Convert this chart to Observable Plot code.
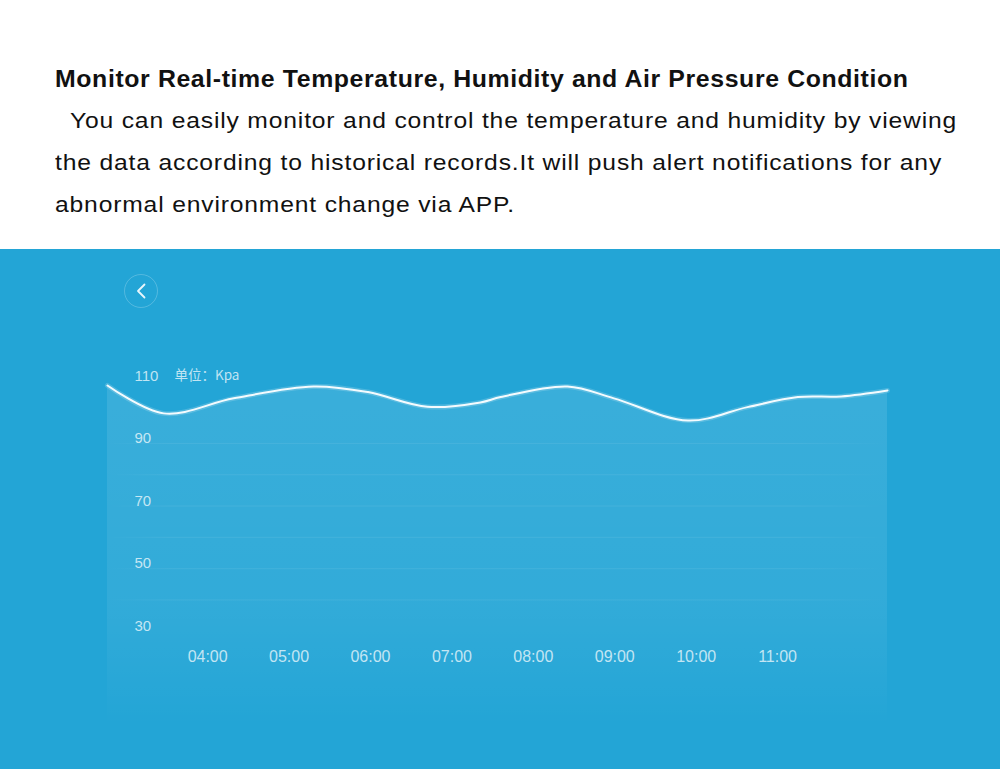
<!DOCTYPE html>
<html>
<head>
<meta charset="utf-8">
<script src="https://cdn.jsdelivr.net/npm/d3@7"></script>
<script src="https://cdn.jsdelivr.net/npm/@observablehq/plot@0.6"></script>
<style>
  html, body { margin: 0; padding: 0; background: #fff; }
  body { width: 1000px; height: 769px; overflow: hidden; position: relative; font-family: "Liberation Sans", Arial, sans-serif; color: #111; }
  .t { position: absolute; left: 55px; white-space: pre; line-height: 1; transform-origin: 0 0; }
  #title { font-weight: bold; font-size: 23px; letter-spacing: 0.57px; transform: scaleX(1.08); }
  .body { font-size: 22px; letter-spacing: 0.75px; transform: scaleX(1.12); }
  #panel { position: absolute; left: 0; top: 249px; width: 1000px; height: 520px; background: #23a5d6; }
  #panel svg.plot { position: absolute; left: 0; top: 0; }
  #back { position: absolute; left: 124px; top: 25px; }
</style>
</head>
<body>
<div id="title" class="t" style="top:68px">Monitor Real-time Temperature, Humidity and Air Pressure Condition</div>
<div class="t body" style="top:110px">  You can easily monitor and control the temperature and humidity by viewing</div>
<div class="t body" style="top:152px">the data according to historical records.It will push alert notifications for any</div>
<div class="t body" style="top:194px">abnormal environment change via APP.</div>
<div id="panel"></div>
<script>
// ---- data ----
const hours  = [2.77, 3.46, 4.32, 5.30, 5.97, 6.70, 7.35, 7.60, 8.42, 8.99, 9.90, 10.63, 11.25, 11.78, 12.35];
const values = [108.5, 99.6, 104.4, 108.2, 106.4, 101.7, 103.1, 104.8, 108.2, 104.4, 97.3, 101.6, 104.8, 105.0, 106.9];
const xTickHours  = [4, 5, 6, 7, 8, 9, 10, 11];
const xTickLabels = ["04:00", "05:00", "06:00", "07:00", "08:00", "09:00", "10:00", "11:00"];
const yTicks = [110, 90, 70, 50, 30];
const gridValues = [90, 80, 70, 60, 50, 40];
const unitLabel = "单位：Kpa";

const data = hours.map((h, i) => ({h, v: values[i]}));
const labelColor = "rgba(255,255,255,0.72)";

const chart = Plot.plot({
  width: 1000,
  height: 520,
  marginLeft: 107,
  marginRight: 113,
  marginTop: 100,
  marginBottom: 44.3,
  style: {background: "transparent", fontFamily: "'Liberation Sans', Arial, sans-serif", overflow: "visible"},
  x: {domain: [2.77, 12.35], axis: null},
  y: {domain: [0, 120], axis: null},
  marks: [
    Plot.areaY(data, {x: "h", y: "v", curve: "catmull-rom", fill: "url(#areaGrad)"}),
    Plot.ruleY(gridValues, {stroke: "url(#gridGrad)", strokeWidth: 1}),
    Plot.line(data, {x: "h", y: "v", curve: "catmull-rom", stroke: "white", strokeOpacity: 0.18, strokeWidth: 5}),
    Plot.line(data, {x: "h", y: "v", curve: "catmull-rom", stroke: "#f4fbfe", strokeWidth: 2}),
    Plot.axisY(yTicks, {anchor: "left", label: null, tickSize: 0, textAnchor: "start", dx: 36, dy: -5, fill: labelColor, fontSize: 15, tickFormat: d => String(d)}),
    Plot.text([unitLabel], {y: () => 110, frameAnchor: "left", textAnchor: "start", dx: 67, dy: -5, fill: labelColor, fontSize: 13.5, fontFamily: "'Noto Sans CJK SC', sans-serif"}),
    Plot.axisX(xTickHours, {anchor: "bottom", label: null, tickSize: 0, lineAnchor: "middle", dy: -77, fill: labelColor, fontSize: 16, tickFormat: d => xTickLabels[xTickHours.indexOf(d)]})
  ]
});

const svg = d3.select(chart);
const defs = svg.insert("defs", ":first-child");
const ag = defs.append("linearGradient").attr("id", "areaGrad")
  .attr("gradientUnits", "userSpaceOnUse").attr("x1", 0).attr("x2", 0).attr("y1", 100).attr("y2", 476);
ag.append("stop").attr("offset", "0%").attr("stop-color", "white").attr("stop-opacity", 0.11);
ag.append("stop").attr("offset", "70%").attr("stop-color", "white").attr("stop-opacity", 0.065);
ag.append("stop").attr("offset", "100%").attr("stop-color", "white").attr("stop-opacity", 0.0);
const gg = defs.append("linearGradient").attr("id", "gridGrad")
  .attr("gradientUnits", "userSpaceOnUse").attr("x1", 107).attr("x2", 887).attr("y1", 0).attr("y2", 0);
gg.append("stop").attr("offset", "0%").attr("stop-color", "white").attr("stop-opacity", 0);
gg.append("stop").attr("offset", "8%").attr("stop-color", "white").attr("stop-opacity", 0.07);
gg.append("stop").attr("offset", "88%").attr("stop-color", "white").attr("stop-opacity", 0.07);
gg.append("stop").attr("offset", "100%").attr("stop-color", "white").attr("stop-opacity", 0);

const panel = document.getElementById("panel");
panel.appendChild(chart);

// back button (UI decoration)
const back = document.createElementNS("http://www.w3.org/2000/svg", "svg");
back.setAttribute("id", "back");
back.setAttribute("width", "36");
back.setAttribute("height", "36");
back.innerHTML = '<circle cx="17" cy="17" r="16.5" fill="none" stroke="rgba(255,255,255,0.22)" stroke-width="1"/>' +
  '<path d="M20.5 10.5 L14 17 L20.5 23.5" fill="none" stroke="#e8f6fc" stroke-width="1.8" stroke-linecap="round" stroke-linejoin="round"/>';
panel.appendChild(back);
</script>
</body>
</html>
